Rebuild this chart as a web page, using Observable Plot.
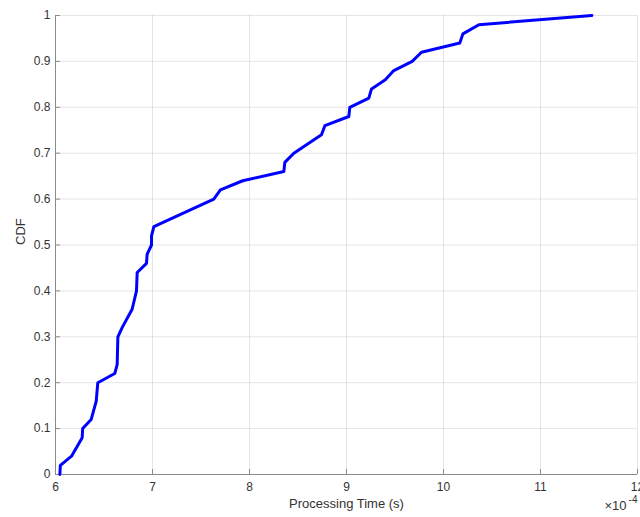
<!DOCTYPE html>
<html>
<head>
<meta charset="utf-8">
<script src="https://cdn.jsdelivr.net/npm/d3@7"></script>
<script src="https://cdn.jsdelivr.net/npm/@observablehq/plot@0.6"></script>
<style>
  html, body { margin: 0; padding: 0; background: #fff; }
  svg { display: block; }
</style>
</head>
<body>
<div id="chart"></div>
<script>
// Processing time (units of 1e-4 s) and CDF values
const times = [6.045, 6.05, 6.165, 6.275, 6.28, 6.368, 6.42, 6.436, 6.611, 6.636, 6.643, 6.687, 6.79, 6.835, 6.842, 6.938, 6.945, 6.99, 6.99, 7.014, 7.632, 7.70, 7.93, 8.354, 8.364, 8.457, 8.742, 8.777, 9.024, 9.034, 9.23, 9.258, 9.40, 9.488, 9.677, 9.773, 10.168, 10.2, 10.365, 11.53];
const cdf   = [0, 0.02, 0.04, 0.08, 0.10, 0.12, 0.16, 0.20, 0.22, 0.24, 0.30, 0.32, 0.36, 0.40, 0.44, 0.46, 0.48, 0.50, 0.52, 0.54, 0.60, 0.62, 0.64, 0.66, 0.68, 0.70, 0.74, 0.76, 0.78, 0.80, 0.82, 0.84, 0.86, 0.88, 0.90, 0.92, 0.94, 0.96, 0.98, 1.0];
const xTicks = [6, 7, 8, 9, 10, 11, 12];
const yTicks = [0, 0.1, 0.2, 0.3, 0.4, 0.5, 0.6, 0.7, 0.8, 0.9, 1];
const yTickLabels = ["0", "0.1", "0.2", "0.3", "0.4", "0.5", "0.6", "0.7", "0.8", "0.9", "1"];
const xLabel = "Processing Time (s)";
const yLabel = "CDF";

const data = times.map((t, i) => ({t, p: cdf[i]}));
const axisColor = "#8a8a8a";
const textColor = "#333333";

const chart = Plot.plot({
  width: 640,
  height: 517,
  marginLeft: 55,
  marginRight: 3,
  marginTop: 15,
  marginBottom: 43,
  style: {fontFamily: "'Liberation Sans', Arial, Helvetica, sans-serif", background: "#fff"},
  x: {domain: [6, 12], axis: null},
  y: {domain: [0, 1], axis: null},
  marks: [
    Plot.gridX(xTicks, {stroke: "#000", strokeOpacity: 0.1}),
    Plot.gridY(yTicks, {stroke: "#000", strokeOpacity: 0.1}),
    Plot.ruleY([0], {stroke: axisColor, strokeWidth: 1}),
    Plot.ruleX([6], {stroke: axisColor, strokeWidth: 1}),
    Plot.axisX(xTicks, {tickSize: -5, tickFormat: () => "", label: null, stroke: axisColor}),
    Plot.axisX(xTicks, {tickSize: 0, tickPadding: 8, label: null, fill: textColor, fontSize: 12}),
    Plot.axisY(yTicks, {tickSize: -5, tickFormat: () => "", label: null, stroke: axisColor}),
    Plot.axisY(yTicks, {tickSize: 0, tickPadding: 5, label: null, fill: textColor, fontSize: 12,
      tickFormat: (d) => yTickLabels[yTicks.indexOf(d)]}),
    Plot.line(data, {x: "t", y: "p", stroke: "#0000ff", strokeWidth: 3, strokeLinejoin: "round"}),
    Plot.text([xLabel], {frameAnchor: "bottom", dy: 33, fill: textColor, fontSize: 13}),
    Plot.text(["×10"], {frameAnchor: "bottom-right", dy: 35, dx: -11, textAnchor: "end", fill: textColor, fontSize: 13}),
    Plot.text(["-4"], {frameAnchor: "bottom-right", dy: 28, dx: 0, textAnchor: "end", fill: textColor, fontSize: 10}),
    Plot.text([yLabel], {frameAnchor: "left", dx: -35, rotate: -90, fill: textColor, fontSize: 13})
  ]
});
document.getElementById("chart").appendChild(chart);
</script>
</body>
</html>
